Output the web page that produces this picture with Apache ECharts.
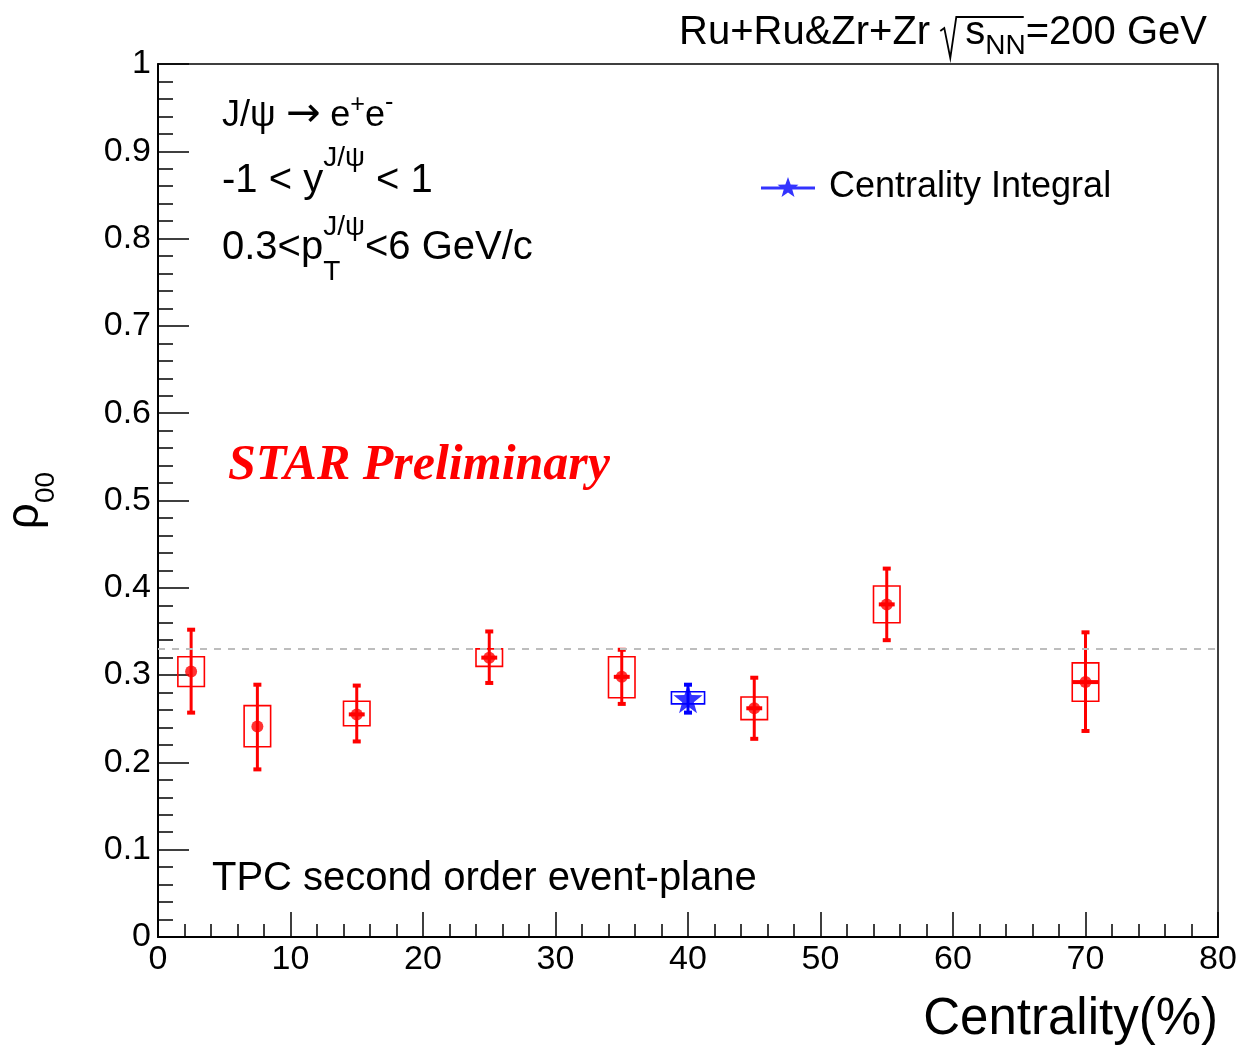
<!DOCTYPE html>
<html>
<head>
<meta charset="utf-8">
<script src="https://cdn.jsdelivr.net/npm/echarts@6/dist/echarts.min.js"></script>
<style>
html,body{margin:0;padding:0;background:#fff;}
#chart{width:1239px;height:1045px;}
</style>
</head>
<body>
<div id="chart"></div>
<script>
// ---------------- data ----------------
const centrality   = [2.5, 7.5, 15, 25, 35, 45, 55, 70];
const rho00        = [0.304, 0.241, 0.255, 0.320, 0.298, 0.262, 0.381, 0.292];
const statLow      = [0.257, 0.192, 0.224, 0.291, 0.267, 0.227, 0.340, 0.236];
const statHigh     = [0.352, 0.289, 0.288, 0.350, 0.329, 0.297, 0.422, 0.349];
const sysLow       = [0.287, 0.218, 0.242, 0.310, 0.274, 0.249, 0.360, 0.270];
const sysHigh      = [0.321, 0.265, 0.270, 0.330, 0.321, 0.275, 0.402, 0.314];
const xErr         = [0, 0, 0.6, 0.6, 0.6, 0.6, 0.6, 1.0];
const sysBoxHalf   = [1, 1, 1, 1, 1, 1, 1, 1];

const integralX        = [40];
const integralRho      = [0.273];
const integralStatLow  = [0.257];
const integralStatHigh = [0.289];
const integralSysLow   = [0.267];
const integralSysHigh  = [0.281];
const integralBoxHalf  = [1.25];

const refLineValue = 1 / 3;
const xTickMin = 0, xTickMax = 80, xTickStep = 10;
const yTickMin = 0, yTickMax = 1, yTickStep = 0.1;

// ---------------- helpers ----------------
const SANS = '"Liberation Sans", Arial, sans-serif';
const DEJAVU = '"DejaVu Sans", sans-serif';
const measureCtx = document.createElement('canvas').getContext('2d');
function textWidth(t, size, family, weight, style) {
  measureCtx.font = (style || 'normal') + ' ' + (weight || 'normal') + ' ' + size + 'px ' + (family || SANS);
  return measureCtx.measureText(t).width;
}
// parts: {t, s (scale), dy (baseline raise px), stack (do not advance), f (family)}
function latex(parts, x, baseline, F, opts) {
  opts = opts || {};
  const color = opts.color || '#000';
  const items = [];
  let cx = 0, stackStart = null, stackMax = 0;
  parts.forEach(p => {
    const size = F * (p.s || 1);
    const family = p.f || opts.family || SANS;
    const w = textWidth(p.t, size, family, opts.weight, opts.style);
    let px = cx;
    if (stackStart !== null) px = stackStart;
    items.push({ t: p.t, size, family, x: px, yb: baseline - (p.dy || 0) });
    if (p.stack) { stackStart = px; stackMax = Math.max(stackMax, px + w); }
    else if (stackStart !== null) { cx = Math.max(stackMax, px + w); stackStart = null; stackMax = 0; }
    else cx = px + w;
  });
  const total = cx;
  const x0 = opts.alignRight ? x - total : x;
  const els = items.map(it => ({
    type: 'text', x: x0 + it.x, y: it.yb - 0.3465 * it.size, silent: true,
    style: {
      text: it.t, fill: color, fontSize: it.size, fontFamily: it.family,
      fontWeight: opts.weight || 'normal', fontStyle: opts.style || 'normal',
      align: 'left', verticalAlign: 'middle', textAlign: 'left', textVerticalAlign: 'middle'
    }
  }));
  return { els, x0, items };
}

// ---------------- annotation texts ----------------
const graphics = [];
// title (top right)
const tParts = [
  { t: 'Ru+Ru&Zr+Zr ' }, { t: '\u2009\u2009\u2009' }, { t: 's' }, { t: 'NN', s: 0.7, dy: -9 }, { t: '=200 GeV' }
];
const title = latex(tParts, 1207, 47, 40, { alignRight: true });
graphics.push(...title.els);
// radical sign drawn over s_NN
{
  const rx = title.x0 + title.items[1].x;
  const ex = title.x0 + title.items[4].x;
  graphics.push({
    type: 'polyline', silent: true,
    shape: { points: [[rx - 1, 31], [rx + 3, 28], [rx + 9, 58], [rx + 15, 17], [ex - 2, 17]] },
    style: { stroke: '#000', lineWidth: 1.8, fill: null }
  });
}
// line 1
graphics.push(...latex([
  { t: 'J/\u03c8 ' }, { t: '\u2192', f: DEJAVU, s: 1.15, dy: -1 }, { t: ' e' }, { t: '+', s: 0.7, dy: 15 }, { t: 'e' }, { t: '-', s: 0.7, dy: 17 }
], 222, 129, 36).els);
// line 2
graphics.push(...latex([
  { t: '-1 < y' }, { t: 'J/\u03c8', s: 0.7, dy: 27 }, { t: ' < 1' }
], 222, 195, 40).els);
// line 3
graphics.push(...latex([
  { t: '0.3<p' }, { t: 'T', s: 0.7, dy: -20, stack: true }, { t: 'J/\u03c8', s: 0.7, dy: 25 }, { t: '<6 GeV/c' }
], 222, 262, 40).els);
// STAR Preliminary
graphics.push(...latex([{ t: 'STAR Preliminary' }], 228, 483, 50,
  { color: '#ff0000', family: '"Liberation Serif", "Times New Roman", serif', weight: 'bold', style: 'italic' }).els);
// TPC text
graphics.push(...latex([{ t: 'TPC second order event-plane' }], 212, 893, 40).els);

// ---------------- series helpers ----------------
function makeErrRender(color) {
  return function (params, api) {
    const x = api.value(0), y = api.value(1);
    const sLo = api.value(2), sHi = api.value(3), yLo = api.value(4), yHi = api.value(5);
    const bh = api.value(6), xe = api.value(7);
    const pTop = api.coord([x, sHi]), pBot = api.coord([x, sLo]);
    const b1 = api.coord([x - bh, yHi]), b2 = api.coord([x + bh, yLo]);
    const children = [
      { type: 'rect', shape: { x: b1[0], y: b1[1], width: b2[0] - b1[0], height: b2[1] - b1[1] },
        style: { fill: 'none', stroke: color, lineWidth: 1.6 } },
      { type: 'line', shape: { x1: pTop[0], y1: pTop[1], x2: pBot[0], y2: pBot[1] },
        style: { stroke: color, lineWidth: 3 } },
      { type: 'rect', shape: { x: pTop[0] - 4, y: pTop[1] - 2, width: 8, height: 4 }, style: { fill: color } },
      { type: 'rect', shape: { x: pBot[0] - 4, y: pBot[1] - 2, width: 8, height: 4 }, style: { fill: color } }
    ];
    if (xe > 0) {
      const l = api.coord([x - xe, y]), r = api.coord([x + xe, y]);
      children.push({ type: 'line', shape: { x1: l[0], y1: l[1], x2: r[0], y2: r[1] },
        style: { stroke: color, lineWidth: 4 } });
    }
    return { type: 'group', children };
  };
}

const errData = centrality.map((c, i) => [c, rho00[i], statLow[i], statHigh[i], sysLow[i], sysHigh[i], sysBoxHalf[i], xErr[i]]);
const intErrData = integralX.map((c, i) => [c, integralRho[i], integralStatLow[i], integralStatHigh[i], integralSysLow[i], integralSysHigh[i], integralBoxHalf[i], 0]);

const STAR_PATH = 'path://M0,-10 L2.35,-3.24 L9.51,-3.09 L3.80,1.24 L5.88,8.09 L0,4 L-5.88,8.09 L-3.80,1.24 L-9.51,-3.09 L-2.35,-3.24 Z';
const LEGEND_ICON = 'path://M0,10.5 L54,10.5 L54,13.5 L0,13.5 Z M27,1 L29.65,8.36 L37.46,8.6 L31.28,13.39 L33.47,20.9 L27,16.5 L20.53,20.9 L22.72,13.39 L16.54,8.6 L24.35,8.36 Z';

const axisFont = { fontSize: 34, fontFamily: SANS, color: '#000' };

const option = {
  animation: false,
  backgroundColor: '#fff',
  grid: {
    left: 158, right: 21, top: 64, bottom: 108, containLabel: false, outerBoundsMode: 'none',
    show: true, borderColor: '#000', borderWidth: 1.5, backgroundColor: 'transparent'
  },
  xAxis: {
    type: 'value', min: xTickMin, max: xTickMax, interval: xTickStep,
    name: 'Centrality(%)', nameLocation: 'end', nameGap: 0, nameMoveOverlap: false,
    nameTextStyle: { fontSize: 51, fontFamily: SANS, color: '#000', align: 'right', verticalAlign: 'top', lineHeight: 51, padding: [57, 0, 0, 0] },
    axisLine: { show: true, onZero: false, lineStyle: { color: '#000', width: 2 } },
    axisTick: { show: true, inside: true, length: 25, lineStyle: { color: '#000', width: 1.5 } },
    minorTick: { show: true, splitNumber: 5, length: 13, lineStyle: { color: '#000', width: 1.5 } },
    axisLabel: Object.assign({ margin: 6 }, axisFont),
    splitLine: { show: false }
  },
  yAxis: {
    type: 'value', min: yTickMin, max: yTickMax, interval: yTickStep,
    name: '{r|\u03c1}{s|00}', nameLocation: 'middle', nameRotate: 90, nameGap: 110, nameMoveOverlap: false,
    nameTextStyle: {
      color: '#000', fontFamily: SANS,
      rich: {
        r: { fontSize: 46, lineHeight: 46, fontFamily: SANS, color: '#000', verticalAlign: 'top' },
        s: { fontSize: 28, lineHeight: 28, fontFamily: SANS, color: '#000', verticalAlign: 'top', padding: [30, 0, 0, 0] }
      }
    },
    axisLine: { show: true, onZero: false, lineStyle: { color: '#000', width: 2 } },
    axisTick: { show: true, inside: true, length: 31, lineStyle: { color: '#000', width: 1.5 } },
    minorTick: { show: true, splitNumber: 5, length: 15, lineStyle: { color: '#000', width: 1.5 } },
    axisLabel: Object.assign({ margin: 7 }, axisFont),
    splitLine: { show: false }
  },
  legend: {
    show: true, left: 761, top: 169, padding: 0, selectedMode: false,
    itemWidth: 54, itemHeight: 24, itemGap: 0,
    textStyle: { fontSize: 36, fontFamily: SANS, color: '#000', lineHeight: 36, padding: [0, 0, 0, 9] },
    data: [{ name: 'Centrality Integral', icon: LEGEND_ICON }]
  },
  graphic: graphics,
  series: [
    {
      type: 'custom', name: 'sys-stat', renderItem: makeErrRender('#ff0000'),
      data: errData, encode: { x: 0, y: 1 }, z: 2, silent: true,
      markLine: {
        silent: true, symbol: ['none', 'none'], label: { show: false },
        lineStyle: { color: '#bdbdbd', type: [7, 7], width: 2 },
        data: [{ yAxis: refLineValue }]
      }
    },
    {
      type: 'custom', name: 'integral-err', renderItem: makeErrRender('#0000ff'),
      data: intErrData, encode: { x: 0, y: 1 }, z: 2, silent: true
    },
    {
      type: 'scatter', name: 'Centrality bins', symbol: 'circle', symbolSize: 12,
      itemStyle: { color: '#ff0000' }, z: 5,
      data: centrality.map((c, i) => [c, rho00[i]])
    },
    {
      type: 'scatter', name: 'Centrality Integral', symbol: STAR_PATH, symbolSize: 29,
      itemStyle: { color: '#0000ff' }, z: 5,
      data: integralX.map((c, i) => [c, integralRho[i]])
    }
  ]
};

const chart = echarts.init(document.getElementById('chart'), null, { renderer: 'canvas' });
chart.setOption(option);
</script>
</body>
</html>
